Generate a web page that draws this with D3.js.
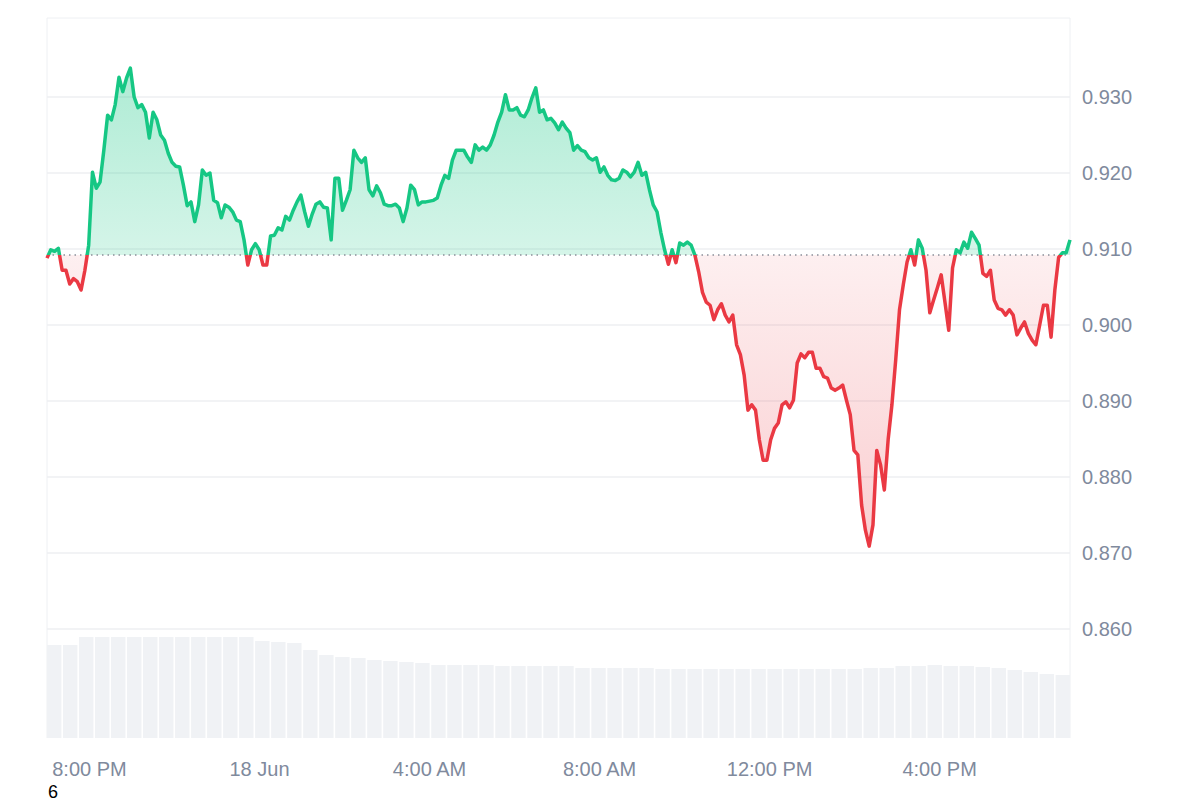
<!DOCTYPE html>
<html><head><meta charset="utf-8">
<script src="https://cdn.jsdelivr.net/npm/d3@7"></script>
<style>body{margin:0;background:#fff}svg{font-family:Arial,"Liberation Sans",sans-serif}</style>
</head><body>
<script>
const prices = [0.9088,0.9099,0.9097,0.9101,0.9072,0.9072,0.9054,0.9061,0.9057,0.9046,0.9072,0.9105,0.9201,0.9180,0.9188,0.9230,0.9276,0.9270,0.9290,0.9326,0.9307,0.9325,0.9338,0.9300,0.9286,0.9290,0.9280,0.9246,0.9280,0.9270,0.9250,0.9243,0.9226,0.9214,0.9209,0.9208,0.9184,0.9157,0.9162,0.9136,0.9158,0.9204,0.9197,0.9200,0.9164,0.9161,0.9141,0.9158,0.9155,0.9149,0.9138,0.9136,0.9112,0.9079,0.9099,0.9107,0.9099,0.9079,0.9079,0.9117,0.9118,0.9128,0.9125,0.9143,0.9138,0.9151,0.9162,0.9171,0.9149,0.9130,0.9146,0.9159,0.9162,0.9155,0.9154,0.9112,0.9193,0.9193,0.9151,0.9164,0.9178,0.9230,0.9220,0.9214,0.9220,0.9178,0.9170,0.9183,0.9174,0.9159,0.9157,0.9157,0.9159,0.9154,0.9136,0.9154,0.9184,0.9178,0.9158,0.9162,0.9162,0.9163,0.9164,0.9167,0.9184,0.9197,0.9193,0.9217,0.9230,0.9230,0.9230,0.9221,0.9214,0.9237,0.9230,0.9234,0.9230,0.9237,0.9250,0.9267,0.9280,0.9303,0.9283,0.9283,0.9286,0.9276,0.9274,0.9283,0.9299,0.9312,0.9280,0.9283,0.9270,0.9272,0.9266,0.9257,0.9267,0.9259,0.9253,0.9230,0.9236,0.9230,0.9228,0.9220,0.9217,0.9220,0.9201,0.9208,0.9197,0.9191,0.9190,0.9193,0.9204,0.9201,0.9195,0.9201,0.9214,0.9197,0.9201,0.9178,0.9158,0.9149,0.9122,0.9099,0.9080,0.9099,0.9082,0.9108,0.9105,0.9109,0.9105,0.9092,0.9070,0.9043,0.9030,0.9026,0.9007,0.9020,0.9028,0.9013,0.9004,0.9013,0.8974,0.8961,0.8934,0.8888,0.8895,0.8888,0.8849,0.8822,0.8822,0.8849,0.8864,0.8871,0.8895,0.8899,0.8891,0.8901,0.8950,0.8962,0.8957,0.8964,0.8964,0.8943,0.8943,0.8932,0.8930,0.8917,0.8914,0.8917,0.8921,0.8901,0.8882,0.8835,0.8829,0.8763,0.8730,0.8709,0.8737,0.8835,0.8816,0.8783,0.8849,0.8895,0.8954,0.9020,0.9053,0.9083,0.9099,0.9079,0.9112,0.9101,0.9072,0.9016,0.9033,0.9049,0.9066,0.9030,0.8993,0.9075,0.9099,0.9095,0.9109,0.9101,0.9122,0.9114,0.9105,0.9068,0.9064,0.9072,0.9033,0.9022,0.9020,0.9013,0.9020,0.9013,0.8987,0.8996,0.9004,0.8989,0.8980,0.8974,0.9000,0.9026,0.9026,0.8984,0.9046,0.9089,0.9095,0.9095,0.9112];
const volumes = [93,93,101,101,101,101,101,101,101,101,101,101,101,97,96,95,88,83,81,80,78,77,76,75,73,73,73,73,72,72,72,72,72,70,70,70,70,70,69,69,69,69,69,69,69,69,69,69,69,69,69,70,70,72,72,73,72,72,71,70,68,66,64,63];
const yTicks = [0.860,0.870,0.880,0.890,0.900,0.910,0.920,0.930];
const xTicks = ["2024-06-17T20:00","2024-06-18T00:00","2024-06-18T04:00","2024-06-18T08:00","2024-06-18T12:00","2024-06-18T16:00"];
const xTickLabels = ["8:00 PM","18 Jun","4:00 AM","8:00 AM","12:00 PM","4:00 PM"];
const basePrice = 0.9092;

const W = 1200, H = 800, L = 47, R = 1070, T = 18, B = 738;
const svg = d3.select("body").append("svg").attr("width", W).attr("height", H);

const y = d3.scaleLinear().domain([0.860, 0.930]).range([629, 97]);
const xi = d3.scaleLinear().domain([0, prices.length - 1]).range([L, R]);
const xt = d3.scaleTime().domain([new Date("2024-06-17T19:00"), new Date("2024-06-18T19:04")]).range([L, R]);
const xv = d3.scaleBand().domain(d3.range(volumes.length)).range([L, R]).paddingInner(0.1);
const yv = d3.scaleLinear().domain([0, 101]).range([B, 637]);

// frame + grid
svg.append("line").attr("x1", L).attr("x2", R).attr("y1", T).attr("y2", T).attr("stroke", "#eef0f3");
svg.selectAll(".vb").data([L, R]).enter().append("line")
  .attr("x1", d => d).attr("x2", d => d).attr("y1", T).attr("y2", B).attr("stroke", "#eef0f3");
svg.selectAll(".grid").data(yTicks).enter().append("line")
  .attr("x1", L).attr("x2", R).attr("y1", d => y(d)).attr("y2", d => y(d))
  .attr("stroke", "#eeeff2").attr("stroke-width", 1.5);

// volume
svg.selectAll(".vol").data(volumes).enter().append("rect")
  .attr("x", (d, i) => xv(i)).attr("width", xv.bandwidth())
  .attr("y", d => yv(d)).attr("height", d => B - yv(d)).attr("fill", "#f0f2f5");

const defs = svg.append("defs");
const by = y(basePrice);
defs.append("clipPath").attr("id", "above").append("rect").attr("x", 0).attr("y", 0).attr("width", W).attr("height", by);
defs.append("clipPath").attr("id", "below").append("rect").attr("x", 0).attr("y", by).attr("width", W).attr("height", H);
const gg = defs.append("linearGradient").attr("id", "gG").attr("x1", 0).attr("x2", 0)
  .attr("gradientUnits", "userSpaceOnUse").attr("y1", y(0.934)).attr("y2", by);
gg.append("stop").attr("offset", 0).attr("stop-color", "#16c784").attr("stop-opacity", 0.35);
gg.append("stop").attr("offset", 1).attr("stop-color", "#16c784").attr("stop-opacity", 0.18);
const rg = defs.append("linearGradient").attr("id", "gR").attr("x1", 0).attr("x2", 0)
  .attr("gradientUnits", "userSpaceOnUse").attr("y1", by).attr("y2", y(0.870));
rg.append("stop").attr("offset", 0).attr("stop-color", "#ea3943").attr("stop-opacity", 0.08);
rg.append("stop").attr("offset", 1).attr("stop-color", "#ea3943").attr("stop-opacity", 0.25);

const area = d3.area().x((d, i) => xi(i)).y0(by).y1(d => y(d));
const line = d3.line().x((d, i) => xi(i)).y(d => y(d));

svg.append("path").datum(prices).attr("d", area).attr("fill", "url(#gG)").attr("clip-path", "url(#above)");
svg.append("path").datum(prices).attr("d", area).attr("fill", "url(#gR)").attr("clip-path", "url(#below)");

svg.append("line").attr("x1", L).attr("x2", R).attr("y1", by).attr("y2", by)
  .attr("stroke", "#8a8f99").attr("stroke-width", 1.5).attr("stroke-dasharray", "1.5,4");

svg.append("path").datum(prices).attr("d", line).attr("fill", "none").attr("stroke", "#16c784")
  .attr("stroke-width", 3.5).attr("stroke-linejoin", "round").attr("clip-path", "url(#above)");
svg.append("path").datum(prices).attr("d", line).attr("fill", "none").attr("stroke", "#ea3943")
  .attr("stroke-width", 3.5).attr("stroke-linejoin", "round").attr("clip-path", "url(#below)");

// axes labels
svg.selectAll(".yl").data(yTicks).enter().append("text")
  .attr("x", 1082).attr("y", d => y(d) + 7).attr("fill", "#808a9d").attr("font-size", 20)
  .text(d => d.toFixed(3));
svg.selectAll(".xl").data(xTicks).enter().append("text")
  .attr("x", d => xt(new Date(d))).attr("y", 776).attr("text-anchor", "middle")
  .attr("fill", "#808a9d").attr("font-size", 20).text((d, i) => xTickLabels[i]);
svg.append("text").attr("x", 48).attr("y", 798).attr("font-size", 18).attr("fill", "#000").text("6");
</script>
</body></html>
